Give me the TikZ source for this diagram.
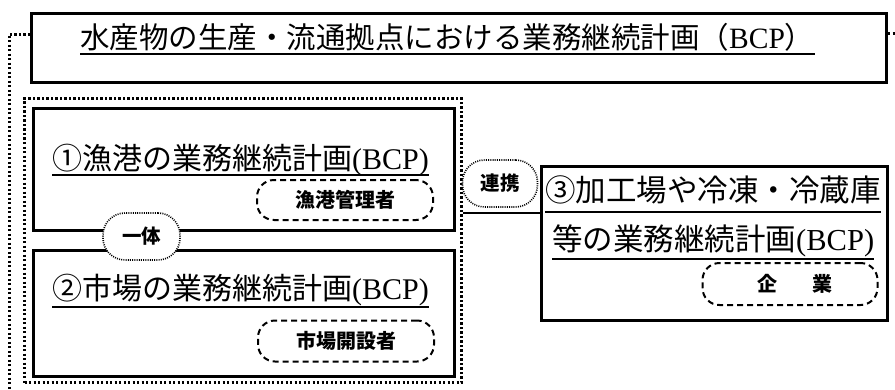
\documentclass[tikz,border=0pt]{standalone}
\usepackage{fontspec}
\setmainfont{Liberation Serif}
\newfontfamily\jp{Noto Sans CJK JP}
\begin{document}
\begin{tikzpicture}[x=1pt,y=-1pt,
  frame/.style={draw, line width=3pt, inner sep=0pt, anchor=north west},
  dotbox/.style={draw, line width=3pt, dash pattern=on 2.2pt off 2.3pt},
  role/.style={draw, line width=2pt, dash pattern=on 6pt off 4pt, rounded corners=17pt,
    inner sep=0pt, font=\jp\bfseries\fontsize{20}{20}\selectfont},
  link/.style={draw, fill=white, line width=1.6pt, dash pattern=on 1pt off 1.2pt,
    rounded corners=22pt, inner sep=0pt, font=\jp\bfseries\fontsize{19.5}{20}\selectfont},
  big/.style={inner sep=0pt, anchor=west, font=\fontsize{30}{30}\selectfont},
  uline/.style={line width=1.8pt}]
\path[use as bounding box] (0,0) rectangle (895,389);
% top frame
\node[frame, minimum width=855pt, minimum height=69pt] (top) at (30,12) {};
\node[big, font=\fontsize{29.5}{30}\selectfont] (tt) at (80,37)
  {{\jp 水産物の生産・流通拠点における業務継続計画（}BCP{\jp ）}};
\draw[uline] (tt.west |- 0,54) -- (tt.east |- 0,54);
% dotted bracket lines
\coordinate (lt) at (9,34);
\coordinate (lb) at (9,389);
\coordinate (rt) at (895,33);
\draw[dotbox] (top.west |- lt) -- (lt) -- (lb);
\draw[dotbox] (top.east |- rt) -- (rt);
% container
\node[dotbox, inner sep=0pt, anchor=north west, minimum width=437pt, minimum height=284pt] (cont) at (23,97) {};
% box 1
\node[frame, minimum width=421pt, minimum height=122pt] (b1) at (32,107) {};
\node[big] (t1) at (52,160) {{\jp ①漁港の業務継続計画}(BCP)};
\draw[uline] (t1.west |- 0,175) -- (t1.east |- 0,175);
\node[role, minimum width=176pt, minimum height=40pt] (r1) at (345,200) {漁港管理者};
% box 2
\node[frame, minimum width=421pt, minimum height=126pt] (b2) at (32,249) {};
\node[big] (t2) at (52,290) {{\jp ②市場の業務継続計画}(BCP)};
\draw[uline] (t2.west |- 0,307) -- (t2.east |- 0,307);
\node[role, minimum width=176pt, minimum height=41pt] (r2) at (346,341) {市場開設者};
% link between 1 and 2
\node[link, minimum width=77pt, minimum height=47pt] (l1) at (141.5,236.5) {一体};
% box 3
\node[frame, minimum width=346pt, minimum height=154pt] (b3) at (540,165) {};
\node[big, font=\fontsize{30.5}{31}\selectfont] (t3) at (545,190) {\jp ③加工場や冷凍・冷蔵庫};
\draw[uline] (t3.west |- 0,212) -- (t3.east |- 0,212);
\node[big, font=\fontsize{30.5}{31}\selectfont] (t4) at (552,241) {{\jp 等の業務継続計画}(BCP)};
\draw[uline] (t4.west |- 0,259) -- (t4.east |- 0,259);
\node[role, minimum width=175pt, minimum height=42pt] (r3) at (790,284) {\hspace{10pt}企\hspace{1.8em}業};
% connection
\draw[line width=2pt] (cont.east |- 0,213) -- (b3.west |- 0,213);
\node[link, minimum width=75pt, minimum height=47pt] (l2) at (500,183.5) {連携};
\end{tikzpicture}
\end{document}
